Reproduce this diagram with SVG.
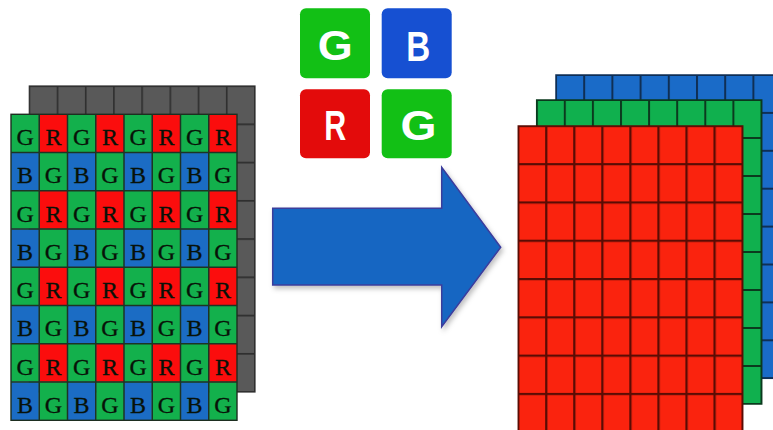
<svg xmlns="http://www.w3.org/2000/svg" width="773" height="430" viewBox="0 0 773 430">
<defs>
<style>
.bl{font-family:"Liberation Serif","Times New Roman",serif;font-size:24px;fill:#081208;text-anchor:middle;stroke:#081208;stroke-width:0.3}
.ic{font-family:"Liberation Sans",Arial,sans-serif;font-weight:bold;font-size:42px;fill:#ffffff;text-anchor:middle}
</style>
<pattern id="bayer" patternUnits="userSpaceOnUse" x="11" y="114.3" width="56.5" height="76.5">
<rect x="0" y="0" width="28.25" height="38.25" fill="#13b04c"/>
<rect x="28.25" y="0" width="28.25" height="38.25" fill="#fb0d0d"/>
<rect x="0" y="38.25" width="28.25" height="38.25" fill="#1b6cc4"/>
<rect x="28.25" y="38.25" width="28.25" height="38.25" fill="#13b04c"/>
</pattern>
<pattern id="gray" patternUnits="userSpaceOnUse" x="28.5" y="85.2" width="28.2" height="38.25">
<rect width="28.2" height="38.25" fill="#595959"/>
<path d="M0 0H28.2M0 0V38.25" stroke="#2e2e2e" stroke-width="3.2" fill="none"/>
</pattern>
<pattern id="pb" patternUnits="userSpaceOnUse" x="555" y="74" width="28.2" height="37.9">
<rect width="28.2" height="37.9" fill="#1a6bc8"/>
<path d="M0 0H28.2M0 0V37.9" stroke="#0f2f55" stroke-width="4" fill="none"/>
</pattern>
<pattern id="pg" patternUnits="userSpaceOnUse" x="535.7" y="99" width="28.1" height="38">
<rect width="28.1" height="38" fill="#10b04e"/>
<path d="M0 0H28.1M0 0V38" stroke="#0b3a1e" stroke-width="4" fill="none"/>
</pattern>
<pattern id="pr" patternUnits="userSpaceOnUse" x="517.1" y="124.8" width="28.05" height="38.3">
<rect width="28.05" height="38.3" fill="#fa230e"/>
<path d="M0 0H28.05M0 0V38.3" stroke="#5a0c04" stroke-width="4.6" fill="none"/>
</pattern>
<filter id="sh" x="-10%" y="-10%" width="130%" height="130%">
<feDropShadow dx="2" dy="3" stdDeviation="2.5" flood-color="#000" flood-opacity="0.25"/>
</filter>
</defs>
<rect width="773" height="430" fill="#ffffff"/>

<g id="bayer-sensor">
<rect x="29.3" y="86" width="225.7" height="306" fill="url(#gray)" stroke="#2e2e2e" stroke-width="1.2"/>
<rect x="11" y="114.3" width="226" height="306" fill="url(#bayer)" stroke="#1d2e20" stroke-width="1.4"/>
<path d="M39.25 114.3V420.3M67.5 114.3V420.3M95.75 114.3V420.3M124 114.3V420.3M152.25 114.3V420.3M180.5 114.3V420.3M208.75 114.3V420.3M11 152.55H237M11 190.8H237M11 229.05H237M11 267.3H237M11 305.55H237M11 343.8H237M11 382.05H237" stroke="#1d3424" stroke-width="1.5" fill="none"/>
<g class="bl">
<text x="25.1" y="145">G</text><text x="53.4" y="145">R</text><text x="81.6" y="145">G</text><text x="109.9" y="145">R</text><text x="138.1" y="145">G</text><text x="166.4" y="145">R</text><text x="194.6" y="145">G</text><text x="222.9" y="145">R</text>
<text x="25.1" y="183.3">B</text><text x="53.4" y="183.3">G</text><text x="81.6" y="183.3">B</text><text x="109.9" y="183.3">G</text><text x="138.1" y="183.3">B</text><text x="166.4" y="183.3">G</text><text x="194.6" y="183.3">B</text><text x="222.9" y="183.3">G</text>
<text x="25.1" y="221.5">G</text><text x="53.4" y="221.5">R</text><text x="81.6" y="221.5">G</text><text x="109.9" y="221.5">R</text><text x="138.1" y="221.5">G</text><text x="166.4" y="221.5">R</text><text x="194.6" y="221.5">G</text><text x="222.9" y="221.5">R</text>
<text x="25.1" y="259.8">B</text><text x="53.4" y="259.8">G</text><text x="81.6" y="259.8">B</text><text x="109.9" y="259.8">G</text><text x="138.1" y="259.8">B</text><text x="166.4" y="259.8">G</text><text x="194.6" y="259.8">B</text><text x="222.9" y="259.8">G</text>
<text x="25.1" y="298">G</text><text x="53.4" y="298">R</text><text x="81.6" y="298">G</text><text x="109.9" y="298">R</text><text x="138.1" y="298">G</text><text x="166.4" y="298">R</text><text x="194.6" y="298">G</text><text x="222.9" y="298">R</text>
<text x="25.1" y="336.3">B</text><text x="53.4" y="336.3">G</text><text x="81.6" y="336.3">B</text><text x="109.9" y="336.3">G</text><text x="138.1" y="336.3">B</text><text x="166.4" y="336.3">G</text><text x="194.6" y="336.3">B</text><text x="222.9" y="336.3">G</text>
<text x="25.1" y="374.5">G</text><text x="53.4" y="374.5">R</text><text x="81.6" y="374.5">G</text><text x="109.9" y="374.5">R</text><text x="138.1" y="374.5">G</text><text x="166.4" y="374.5">R</text><text x="194.6" y="374.5">G</text><text x="222.9" y="374.5">R</text>
<text x="25.1" y="412.8">B</text><text x="53.4" y="412.8">G</text><text x="81.6" y="412.8">B</text><text x="109.9" y="412.8">G</text><text x="138.1" y="412.8">B</text><text x="166.4" y="412.8">G</text><text x="194.6" y="412.8">B</text><text x="222.9" y="412.8">G</text>
</g>
</g>

<g id="legend">
<rect x="300" y="8.3" width="70" height="70" rx="6" fill="#12c015"/>
<rect x="381.7" y="8.3" width="70" height="70" rx="6" fill="#1650d2"/>
<rect x="300" y="89.3" width="70" height="69" rx="6" fill="#e30b0b"/>
<rect x="381.7" y="89.3" width="70" height="69" rx="6" fill="#12c015"/>
<text class="ic" x="335.3" y="60" textLength="35" lengthAdjust="spacingAndGlyphs">G</text>
<text class="ic" x="418.3" y="61" textLength="24" lengthAdjust="spacingAndGlyphs">B</text>
<text class="ic" x="335.3" y="140" textLength="22" lengthAdjust="spacingAndGlyphs">R</text>
<text class="ic" x="418.5" y="140" textLength="36" lengthAdjust="spacingAndGlyphs">G</text>
</g>

<g id="connectors">
<polygon points="272.7,208.3 441.7,208.3 441.7,167.3 500.7,247.3 441.7,326.7 441.7,285 272.7,285" fill="#1766c2" stroke="#3b3c9c" stroke-width="1.5" filter="url(#sh)"/>
</g>

<g id="rgb-planes">
<rect id="blue-plane" x="556" y="75" width="230" height="303.3" fill="url(#pb)" stroke="#0f2f55" stroke-width="1.5"/>
<rect id="green-plane" x="536.7" y="100" width="225" height="304" fill="url(#pg)" stroke="#0b3a1e" stroke-width="1.5"/>
<rect id="red-plane" x="518.3" y="126" width="224.4" height="310" fill="url(#pr)" stroke="#5a0c04" stroke-width="1.5"/>
</g>
</svg>
